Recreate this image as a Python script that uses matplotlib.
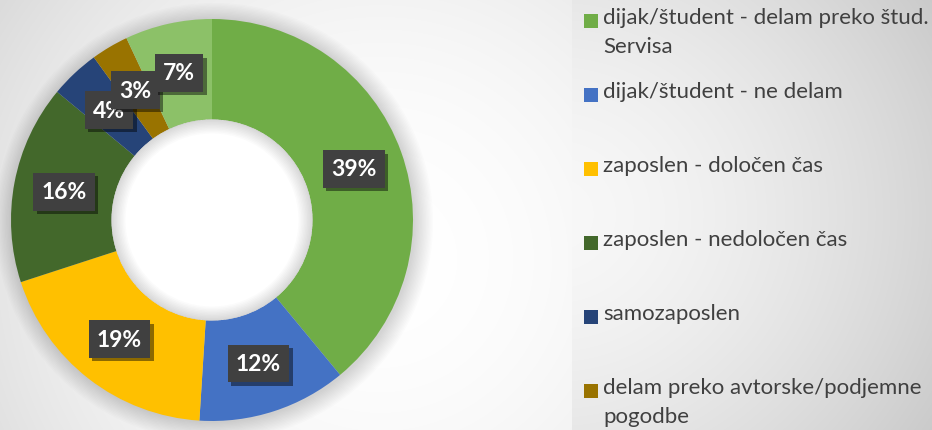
import numpy as np
import matplotlib
matplotlib.use("Agg")
import matplotlib.pyplot as plt
from matplotlib.patches import Circle, Wedge, Rectangle
import matplotlib.patheffects as pe

# ---- data ----
categories = [
    "dijak/študent - delam preko štud.\nServisa",
    "dijak/študent - ne delam",
    "zaposlen - določen čas",
    "zaposlen - nedoločen čas",
    "samozaposlen",
    "delam preko avtorske/podjemne\npogodbe",
    "drugo",
]
values = [39, 12, 19, 16, 4, 3, 7]
colors = ["#70AD47", "#4472C4", "#FFC000", "#43682B", "#264478", "#997300", "#8CC168"]
legend_shown = 6  # legend is cut off after the 6th entry

W, H = 932, 431
fig = plt.figure(figsize=(W / 100, H / 100), dpi=100)

# ---- background gradient ----
yy, xx = np.mgrid[0:H, 0:W].astype(float)
d = np.sqrt((xx - 380) ** 2 + (yy - 260) ** 2)
main = 255 - 36 * np.clip(d / 460, 0, 1.3) ** 2
panel_x0 = 572
dp = np.sqrt((xx - panel_x0 + 20) ** 2 + ((yy - 215) * 1.1) ** 2)
panel = 248 - 38 * np.clip(dp / 400, 0, 1.3) ** 1.6
bg = np.where(xx < panel_x0, main, panel)
img = np.dstack([bg, bg, bg]) / 255.0
ax_bg = fig.add_axes([0, 0, 1, 1])
ax_bg.imshow(img, extent=[0, W, H, 0], aspect="auto", interpolation="bilinear")
ax_bg.set_xlim(0, W)
ax_bg.set_ylim(H, 0)
ax_bg.axis("off")

# ---- donut ----
cx, cy, R = 212, 221, 201
ax = fig.add_axes([(cx - R) / W, (H - cy - R) / H, 2 * R / W, 2 * R / H])
ax.set_facecolor("none")

# outer soft shadow
for r in np.linspace(1.09, 1.0, 14):
    ax.add_patch(Circle((0.01, -0.01), r, color="black", alpha=0.012, lw=0, clip_on=False, zorder=0))

wedges, texts, autotexts = ax.pie(
    values, colors=colors, startangle=90, counterclock=False,
    radius=1.0, wedgeprops=dict(width=0.5, linewidth=0),
    autopct=lambda p: f"{p:.0f}%", pctdistance=0.75,
    textprops=dict(color="white", fontsize=16.5, fontweight="bold", family=["Lato", "DejaVu Sans"]),
)
for w in wedges:
    w.set_zorder(1)

# inner hole with inner shadow
ax.add_patch(Circle((0, 0), 0.5, color="white", lw=0, zorder=1.5))
for wdt in np.linspace(0.07, 0.005, 10):
    ax.add_patch(Wedge((0, 0), 0.5, 0, 360, width=wdt, color="black", alpha=0.015, lw=0, zorder=1.6))

for t in autotexts:
    t.set_zorder(5)
    t.set_bbox(dict(boxstyle="square,pad=0.36", facecolor="#404040", edgecolor="none"))
    t.get_bbox_patch().set_path_effects([
        pe.SimplePatchShadow(offset=(2.5, -2.5), shadow_rgbFace="black", alpha=0.45),
        pe.Normal(),
    ])

ax.set_xlim(-1, 1)
ax.set_ylim(-1, 1)
ax.set_aspect("equal")
ax.axis("off")

# ---- legend (manual) ----
leg_y0, leg_dy = 22, 74
sq = 14
for i in range(legend_shown):
    yc = leg_y0 + leg_dy * i
    ax_bg.add_patch(Rectangle((584, yc - sq / 2), sq, sq, facecolor=colors[i], edgecolor="none"))
    ax_bg.text(603, yc - 14, categories[i], ha="left", va="top", fontsize=16,
               color="#404040", family=["Lato", "DejaVu Sans"], linespacing=1.55)

fig.savefig("out.png", dpi=100)
